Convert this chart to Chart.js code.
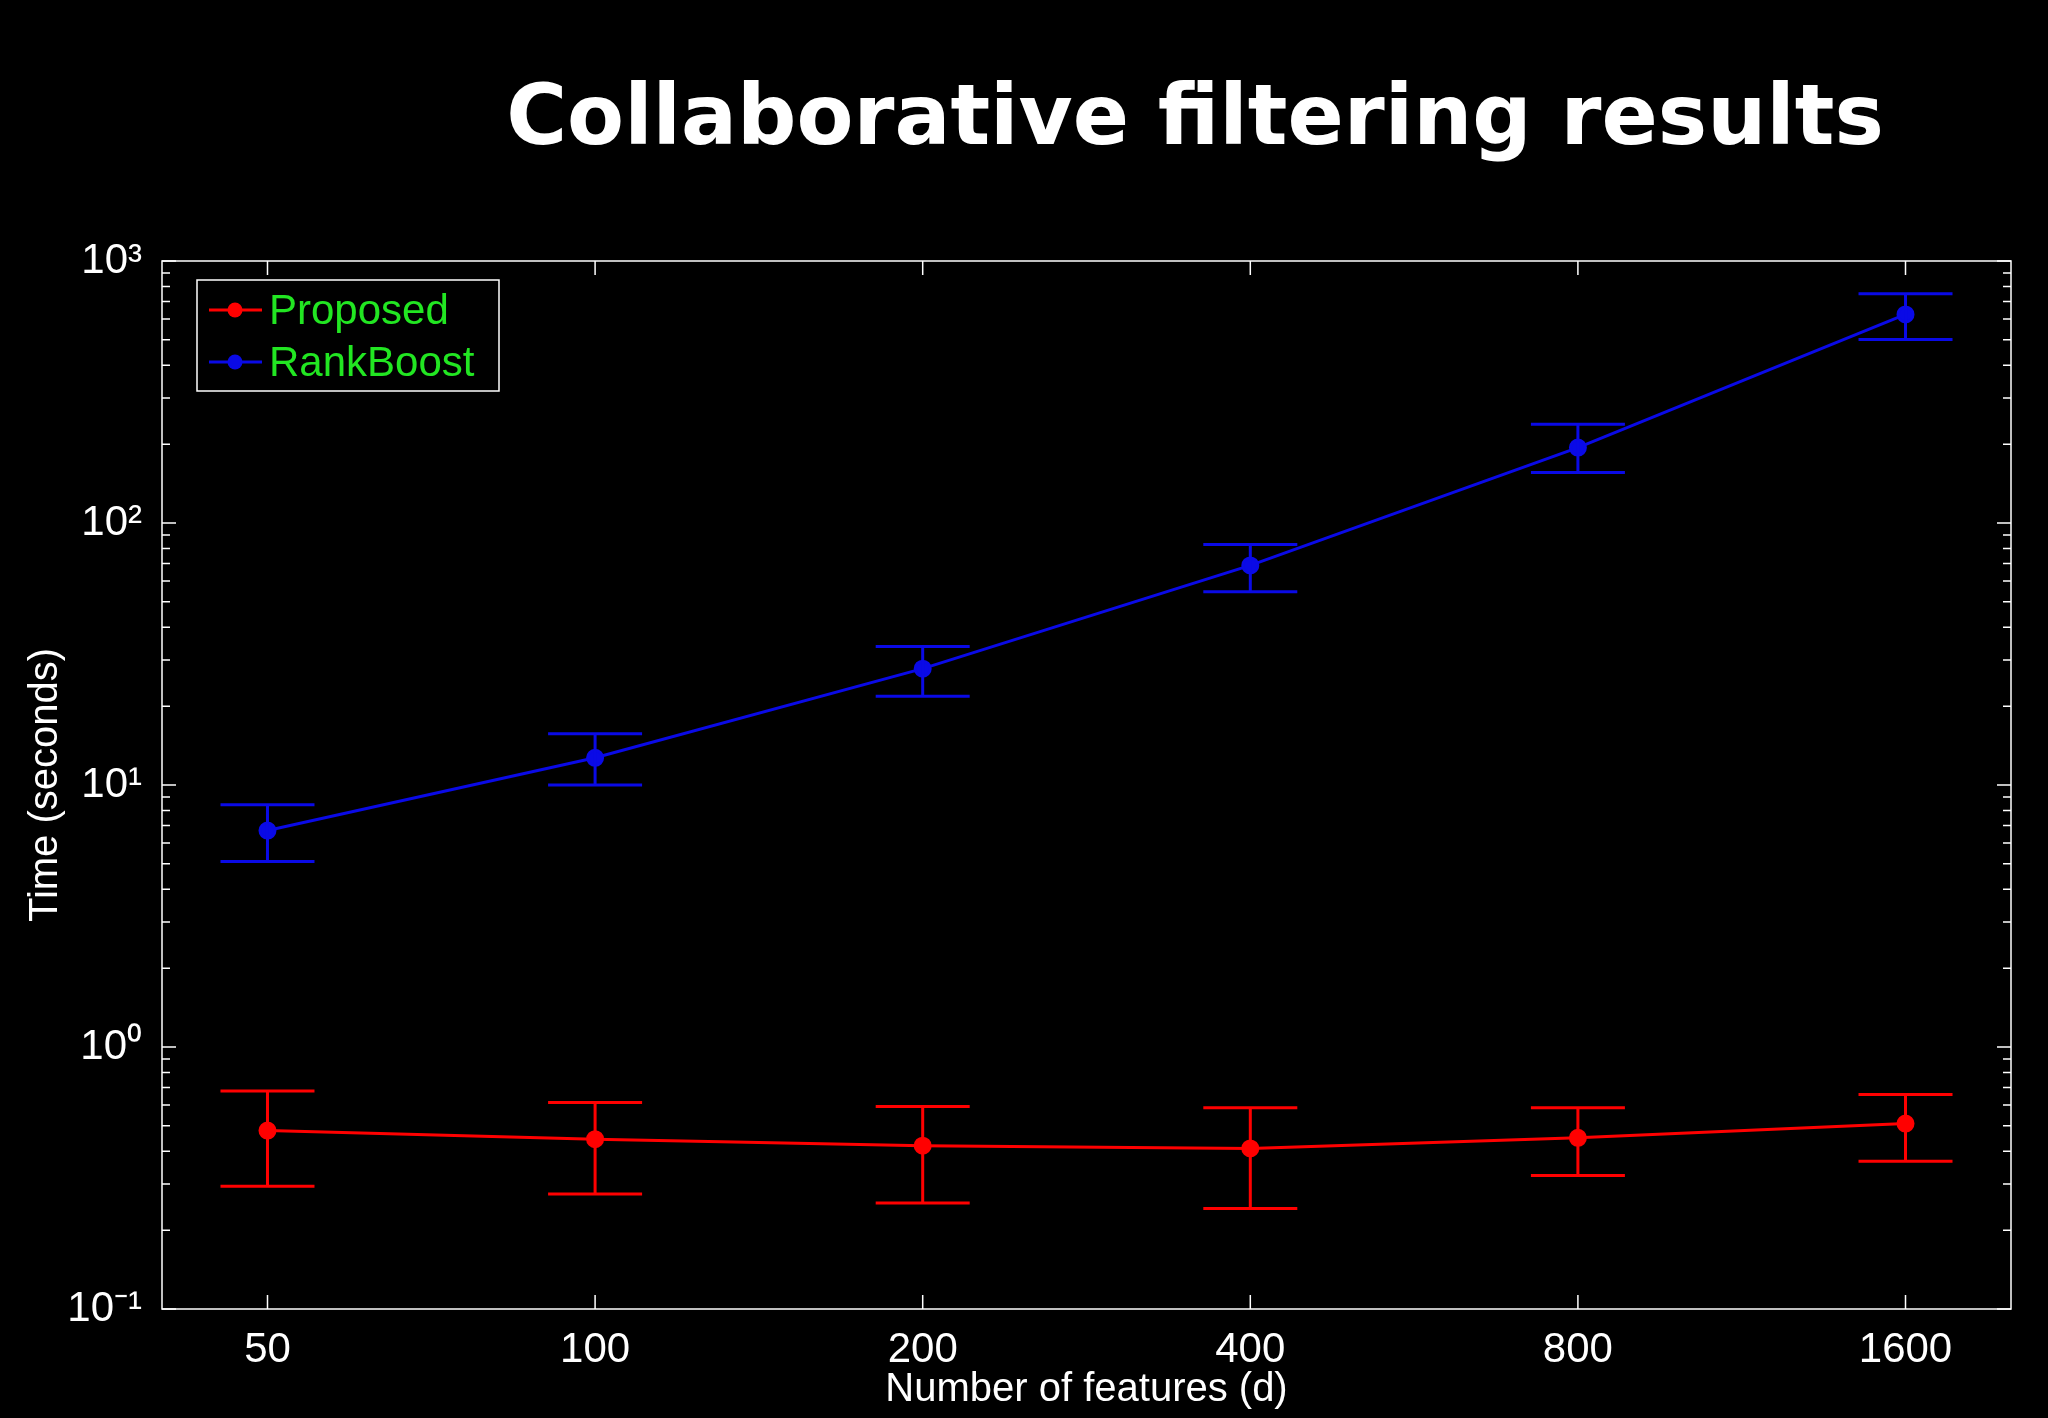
<!DOCTYPE html>
<html><head><meta charset="utf-8">
<script src="https://cdn.jsdelivr.net/npm/chart.js@4/dist/chart.umd.min.js"></script>
<style>html,body{margin:0;background:#000;}#w{width:2048px;height:1418px;}</style>
</head><body><div id="w"><canvas id="c"></canvas></div>
<script>
const categories = ['50','100','200','400','800','1600'];
const proposed = [0.48,0.445,0.42,0.41,0.45,0.51];
const proposedLow = [0.294,0.275,0.254,0.242,0.323,0.366];
const proposedHigh = [0.68,0.614,0.593,0.586,0.586,0.658];
const rankboost = [6.7,12.7,27.8,68.9,194,625];
const rankboostLow = [5.1,10,21.8,54.7,156,502];
const rankboostHigh = [8.4,15.7,33.8,82.8,238,750];
const yTickLabels = {'0.1':'10⁻¹','1':'10⁰','10':'10¹','100':'10²','1000':'10³'};

const F = '"Liberation Sans", Arial, sans-serif';
const pts = a => a.map((v,i)=>({x:i,y:v}));

const deco = {
  id:'deco',
  beforeDraw(c){ const g=c.ctx; g.save(); g.fillStyle='#000'; g.fillRect(0,0,c.width,c.height); g.restore(); },
  afterDatasetsDraw(c){
    const g=c.ctx, xs=c.scales.x, ys=c.scales.y, a=c.chartArea;
    g.save();
    [[proposedLow,proposedHigh,'#ff0000'],[rankboostLow,rankboostHigh,'#0a0ae6']].forEach(([lo,hi,col])=>{
      g.strokeStyle=col; g.lineWidth=3;
      lo.forEach((l,i)=>{
        const x=xs.getPixelForValue(i), y1=ys.getPixelForValue(l), y2=ys.getPixelForValue(hi[i]);
        g.beginPath(); g.moveTo(x,y1); g.lineTo(x,y2);
        g.moveTo(x-47,y1); g.lineTo(x+47,y1); g.moveTo(x-47,y2); g.lineTo(x+47,y2); g.stroke();
      });
    });
    g.strokeStyle='#fff'; g.lineWidth=1.5;
    g.strokeRect(a.left,a.top,a.right-a.left,a.bottom-a.top);
    g.beginPath();
    for(let e=-1;e<3;e++) for(let m=1;m<=10;m++){
      const v=m*Math.pow(10,e); const y=ys.getPixelForValue(v); const L=(m===1||m===10)?14:8;
      g.moveTo(a.left,y); g.lineTo(a.left+L,y); g.moveTo(a.right,y); g.lineTo(a.right-L,y);
    }
    categories.forEach((_,i)=>{ const x=xs.getPixelForValue(i);
      g.moveTo(x,a.bottom); g.lineTo(x,a.bottom-14); g.moveTo(x,a.top); g.lineTo(x,a.top+14); });
    g.stroke();
    const lx=197, ly=280, lw=302, lh=111;
    g.strokeStyle='#fff'; g.lineWidth=1.5; g.strokeRect(lx,ly,lw,lh);
    [['Proposed','#ff0000'],['RankBoost','#0a0ae6']].forEach(([t,col],k)=>{
      const y=ly+30+k*52;
      g.strokeStyle=col; g.lineWidth=3; g.beginPath(); g.moveTo(lx+12,y); g.lineTo(lx+65,y); g.stroke();
      g.fillStyle=col; g.beginPath(); g.arc(lx+38,y,7.5,0,Math.PI*2); g.fill();
      g.fillStyle='#22e622'; g.font='42px '+F; g.textBaseline='middle'; g.textAlign='left';
      g.fillText(t,lx+72,y+2);
    });
    g.fillStyle='#fff'; g.font='bold 83px "DejaVu Sans", Verdana, sans-serif'; g.textAlign='center'; g.textBaseline='middle';
    g.fillText('Collaborative filtering results',1195,122);
    g.restore();
  }
};

new Chart(document.getElementById('c'),{
  type:'line',
  data:{datasets:[
    {label:'Proposed',data:pts(proposed),borderColor:'#ff0000',backgroundColor:'#ff0000',borderWidth:3,pointRadius:7.5,pointHoverRadius:7.5},
    {label:'RankBoost',data:pts(rankboost),borderColor:'#0a0ae6',backgroundColor:'#0a0ae6',borderWidth:3,pointRadius:7.5,pointHoverRadius:7.5}
  ]},
  options:{
    responsive:true,maintainAspectRatio:false,animation:false,devicePixelRatio:1,
    layout:{padding:{top:261,right:37,left:0,bottom:0}},
    plugins:{legend:{display:false},tooltip:{enabled:false}},
    scales:{
      x:{type:'linear',min:-0.322,max:5.322,
        afterBuildTicks(s){ s.ticks=categories.map((_,i)=>({value:i})); },
        afterFit(s){ s.height=109; },
        grid:{display:false},border:{display:false},
        ticks:{color:'#fff',font:{size:42,family:F},padding:8,callback:(v)=>categories[v]},
        title:{display:true,text:'Number of features (d)',color:'#fff',font:{size:40,family:F},padding:{top:0,bottom:4}}},
      y:{type:'logarithmic',min:0.1,max:1000,
        afterBuildTicks(s){ s.ticks=Object.keys(yTickLabels).map(v=>({value:+v})); },
        afterFit(s){ s.width=162; },
        grid:{display:false},border:{display:false},
        ticks:{color:'#fff',font:{size:42,family:F},padding:12,callback:(v)=>yTickLabels[String(v)]||''},
        title:{display:true,text:'Time (seconds)',color:'#fff',font:{size:40,family:F},padding:{top:22,bottom:0}}}
    }
  },
  plugins:[deco]
});
</script></body></html>
